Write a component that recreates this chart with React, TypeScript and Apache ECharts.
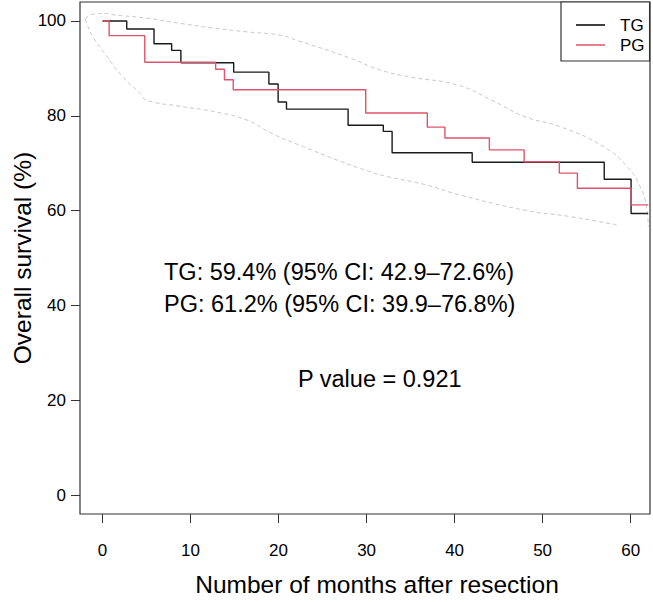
import React, { useEffect, useRef } from "react";
import * as echarts from "echarts";

// Kaplan–Meier step data (months, overall survival %)
const tgMonths = [0, 2.75, 5.85, 7.85, 8.9, 14.9, 18.9, 19.95, 20.9, 27.9, 31.9, 32.9, 42.0, 57.0, 60.05, 62.0];
const tgSurvival = [100, 98.3, 95.2, 93.8, 91.2, 89.2, 86.7, 82.9, 81.4, 78.0, 76.7, 72.2, 70.2, 66.6, 59.4, 59.4];
const pgMonths = [0, 0.75, 4.8, 12.85, 13.85, 14.85, 29.9, 36.9, 38.9, 43.95, 47.9, 51.9, 53.95, 60.05, 62.0];
const pgSurvival = [100, 96.9, 91.3, 89.8, 87.6, 85.5, 80.6, 77.6, 75.3, 72.8, 70.3, 67.9, 64.7, 61.2, 61.2];

// Confidence envelope (grey dashed)
const ciUpperMonths = [-1.95, -1.2, 0.4, 1.2, 5.0, 8.8, 12.6, 16.4, 20.2, 22.1, 27.8, 31.5, 34.9, 40.3, 44.2, 48.0, 52.0, 56.9, 59.6, 61.1, 61.8, 62.0];
const ciUpperValues = [100.4, 101.4, 101.6, 101.3, 100.6, 99.5, 98.5, 97.7, 97.0, 95.9, 92.4, 89.7, 88.2, 86.5, 83.3, 79.8, 77.7, 73.5, 69.3, 65.0, 60.8, 56.6];
const ciLowerMonths = [-1.95, -1.8, -1.1, 0.5, 2.3, 4.3, 5.0, 8.8, 12.6, 16.4, 19.2, 22.8, 26.6, 30.4, 32.3, 36.6, 40.6, 48.2, 52.9, 58.4];
const ciLowerValues = [100.4, 99.5, 96.7, 92.5, 88.2, 84.7, 83.3, 82.0, 80.9, 79.1, 76.3, 73.5, 70.7, 68.2, 67.2, 65.5, 63.3, 60.0, 58.8, 57.0];

const xTicks = [0, 10, 20, 30, 40, 50, 60];
const yTicks = [0, 20, 40, 60, 80, 100];
const groupNames = ["TG", "PG"];
const groupColors = ["#000000", "#DF536B"];
const annotationLines = [
  "TG: 59.4% (95% CI: 42.9–72.6%)",
  "PG: 61.2% (95% CI: 39.9–76.8%)",
  "P value = 0.921",
];
const xTitle = "Number of months after resection";
const yTitle = "Overall survival (%)";

const FONT = '"Liberation Sans", Arial, Helvetica, sans-serif';

export default function App() {
  const ref = useRef<HTMLDivElement>(null);
  useEffect(() => {
    if (!ref.current) return;
    const chart = echarts.init(ref.current, null, { renderer: "svg" });
    const pairs = (xs: number[], ys: number[]) => xs.map((x, i) => [x, ys[i]]);
    chart.setOption({
      animation: false,
      backgroundColor: "#ffffff",
      textStyle: { fontFamily: FONT },
      grid: {
        left: 80,
        right: 3,
        top: 2,
        bottom: 88,
        show: true,
        borderColor: "#333",
        borderWidth: 1.2,
        backgroundColor: "transparent",
      },
      xAxis: {
        type: "value",
        min: -2.56,
        max: 62.2,
        splitLine: { show: false },
        axisLine: { show: false, onZero: false },
        axisTick: { show: true, length: 9, customValues: xTicks, lineStyle: { color: "#333", width: 1 } },
        axisLabel: { customValues: xTicks, fontSize: 17, color: "#000", margin: 28, fontFamily: FONT },
      },
      yAxis: {
        type: "value",
        min: -4,
        max: 104,
        splitLine: { show: false },
        axisLine: { show: false, onZero: false },
        axisTick: { show: true, length: 9, customValues: yTicks, lineStyle: { color: "#333", width: 1 } },
        axisLabel: { customValues: yTicks, fontSize: 17, color: "#000", margin: 14, fontFamily: FONT },
      },
      legend: {
        data: groupNames,
        orient: "vertical",
        left: 561,
        top: 2,
        borderColor: "#333",
        borderWidth: 1.2,
        backgroundColor: "#fff",
        padding: [14, 5, 7, 15],
        itemWidth: 29,
        itemHeight: 1.5,
        itemGap: 2,
        icon: "rect",
        textStyle: { fontSize: 17, color: "#000", lineHeight: 18, padding: [0, 0, 0, 10], fontFamily: FONT },
      },
      series: [
        {
          name: "upper",
          type: "line",
          data: pairs(ciUpperMonths, ciUpperValues),
          smooth: 0.5,
          showSymbol: false,
          silent: true,
          lineStyle: { color: "#c2c2c2", width: 0.9, type: [4, 3] },
        },
        {
          name: "lower",
          type: "line",
          data: pairs(ciLowerMonths, ciLowerValues),
          smooth: 0.5,
          showSymbol: false,
          silent: true,
          lineStyle: { color: "#c2c2c2", width: 0.9, type: [4, 3] },
        },
        {
          name: groupNames[0],
          type: "line",
          step: "end",
          data: pairs(tgMonths, tgSurvival),
          showSymbol: false,
          itemStyle: { color: groupColors[0] },
          lineStyle: { color: "#1a1a1a", width: 1.4 },
        },
        {
          name: groupNames[1],
          type: "line",
          step: "end",
          data: pairs(pgMonths, pgSurvival),
          showSymbol: false,
          itemStyle: { color: groupColors[1] },
          lineStyle: { color: groupColors[1], width: 1.4 },
        },
      ],
      graphic: [
        {
          type: "text",
          x: 164,
          y: 272,
          style: { text: annotationLines[0], fontSize: 23.5, fontFamily: FONT, fill: "#000", verticalAlign: "middle" },
        },
        {
          type: "text",
          x: 164,
          y: 304,
          style: { text: annotationLines[1], fontSize: 23.5, fontFamily: FONT, fill: "#000", verticalAlign: "middle" },
        },
        {
          type: "text",
          x: 298,
          y: 379,
          style: { text: annotationLines[2], fontSize: 23.5, fontFamily: FONT, fill: "#000", verticalAlign: "middle" },
        },
        {
          type: "text",
          x: 377,
          y: 584,
          style: { text: xTitle, fontSize: 24.5, fontFamily: FONT, fill: "#000", align: "center", verticalAlign: "middle" },
        },
        {
          type: "text",
          x: 22,
          y: 258,
          rotation: Math.PI / 2,
          style: { text: yTitle, fontSize: 24.5, fontFamily: FONT, fill: "#000", align: "center", verticalAlign: "middle" },
        },
      ],
    });
    return () => chart.dispose();
  }, []);
  return (
    <div
      ref={ref}
      style={{ position: "fixed", left: 0, top: 0, width: 653, height: 602, background: "#fff" }}
    />
  );
}
